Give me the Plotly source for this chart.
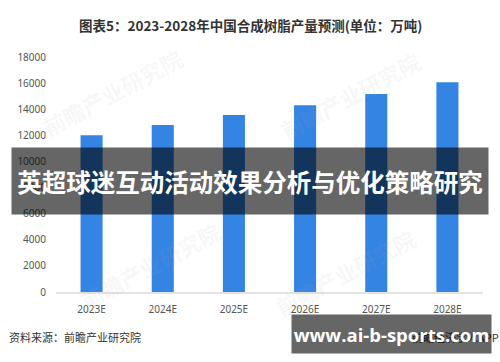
import plotly.graph_objects as go

years = ["2023E", "2024E", "2025E", "2026E", "2027E", "2028E"]
output = [12000, 12800, 13550, 14300, 15170, 16070]
y_ticks = [0, 2000, 4000, 6000, 8000, 10000, 12000, 14000, 16000, 18000]
y_tick_labels = [str(v) for v in y_ticks]

title_text = "<b>图表5：2023-2028年中国合成树脂产量预测(单位：万吨)</b>"
source_text = "资料来源：前瞻产业研究院"
brand_text = "前瞻经济学人APP"
banner_text = "英超球迷互动活动效果分析与优化策略研究"
site_text = "www.ai-b-sports.com"
watermark = "前瞻产业研究院"

W, H = 500, 362
L, R, T, B = 56, 17, 57, 70
PW, PH = W - L - R, H - T - B

def px(x):
    return (x - L) / PW

def py(y):
    return (H - B - y) / PH

fig = go.Figure()
fig.add_trace(go.Bar(
    x=years, y=output,
    marker=dict(color="#3484e4", line=dict(width=0)),
    width=0.31,
))

ann = []
# watermarks
for cx, cy in [(112, 92), (350, 95), (150, 265), (345, 272)]:
    ann.append(dict(x=px(cx), y=py(cy), xref="paper", yref="paper",
                    xanchor="center", yanchor="middle",
                    text="<b>" + watermark + "</b>", showarrow=False, textangle=-28,
                    font=dict(size=22, color="rgba(170,170,170,0.10)",
                              family="Noto Sans CJK SC")))
ann.append(dict(x=px(250), y=py(25), xref="paper", yref="paper", text=title_text,
                xanchor="center", yanchor="middle",
                showarrow=False, font=dict(size=13.5, color="#333",
                                           family="Noto Sans CJK SC")))
ann.append(dict(x=px(7), y=py(337), xref="paper", yref="paper", text=source_text,
                xanchor="left", yanchor="middle", showarrow=False,
                font=dict(size=11, color="#333", family="Noto Sans CJK SC")))
ann.append(dict(x=px(501), y=py(337), xref="paper", yref="paper", text=brand_text,
                xanchor="right", yanchor="middle", showarrow=False,
                font=dict(size=11, color="#333", family="Noto Sans CJK SC")))
# main banner
ann.append(dict(x=px(250), y=py(181), xref="paper", yref="paper",
                xanchor="center", yanchor="middle",
                text="<b>" + banner_text + "</b>", showarrow=False,
                width=476, height=66, borderpad=0, bgcolor="rgba(0,0,0,0.6)",
                font=dict(size=24.5, color="white", family="Noto Sans CJK SC")))
# bottom-right banner
ann.append(dict(x=px(391.5), y=py(334), xref="paper", yref="paper",
                xanchor="center", yanchor="middle",
                text="<b>" + site_text + "</b>", showarrow=False,
                width=199, height=38, borderpad=0, bgcolor="rgba(0,0,0,0.6)",
                font=dict(size=18.5, color="white", family="Open Sans")))

fig.update_layout(
    width=W, height=H,
    margin=dict(l=L, r=R, t=T, b=B),
    paper_bgcolor="white", plot_bgcolor="white",
    showlegend=False,
    bargap=0.69,
    annotations=ann,
    xaxis=dict(showgrid=False, showline=True, linecolor="#e3e3e3", linewidth=2,
               ticks="", ticklabelstandoff=7,
               tickfont=dict(size=10, color="#555", family="Noto Sans"),
               fixedrange=True),
    yaxis=dict(range=[0, 18000], tickvals=y_ticks, ticktext=y_tick_labels,
               showgrid=False, zeroline=False,
               showline=False, ticks="", ticklabelstandoff=9,
               tickfont=dict(size=10, color="#555", family="Noto Sans"),
               fixedrange=True),
)

fig.write_html("out.html", config={"displayModeBar": False})
